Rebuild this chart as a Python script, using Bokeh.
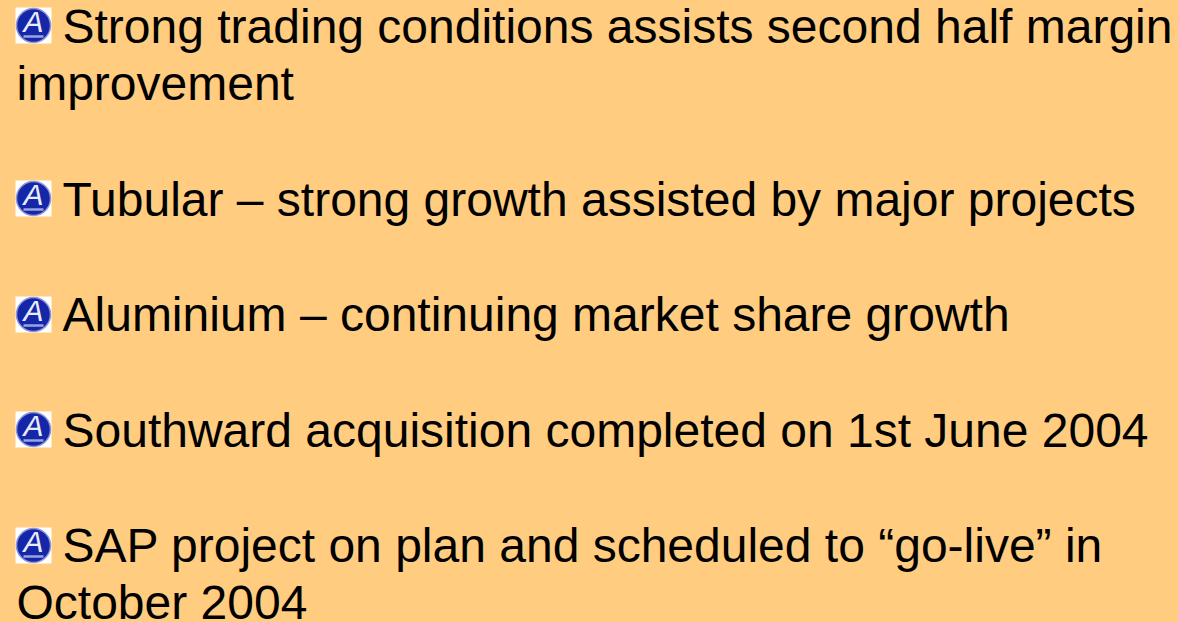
from bokeh.plotting import figure
from bokeh.embed import file_html
from bokeh.resources import INLINE
from bokeh.core.properties import value
from bokeh.models import Range1d

W, H = 1178, 622
lines = ["Strong trading conditions assists second half margin", "improvement",
         "Tubular – strong growth assisted by major projects",
         "Aluminium – continuing market share growth",
         "Southward acquisition completed on 1st June 2004",
         "SAP project on plan and scheduled to “go-live” in", "October 2004"]
xs = [62, 16, 62, 62, 62, 62, 16]
ys = [26, 83, 199, 314, 430, 545, 602]
bullet_x = [33] * 5
bullet_y = [25, 198, 314, 429, 545]

p = figure(width=W, height=H, x_range=Range1d(0, W), y_range=Range1d(H, 0),
           output_backend="svg", toolbar_location=None, min_border=0,
           background_fill_color="#FFCC80", border_fill_color="#FFCC80")
p.axis.visible = False
p.grid.visible = False
p.outline_line_color = None
p.scatter(bullet_x, bullet_y, size=36, marker="square", fill_color="white", line_color=None)
p.scatter(bullet_x, bullet_y, size=34, marker="circle", fill_color="#1526A8", line_color="#8C96D8", line_width=1.5)
p.text(bullet_x, [y - 4 for y in bullet_y], text=["A"] * 5, text_color="#E8ECF8",
       text_font=value("Liberation Sans"), text_font_size="30px", text_font_style="italic",
       text_align="center", text_baseline="middle")
p.segment([x - 10 for x in bullet_x], [y + 11 for y in bullet_y],
          [x + 10 for x in bullet_x], [y + 11 for y in bullet_y],
          line_color="#9AA4E0", line_width=2.5)
p.text(xs, ys, text=lines, text_color="black", text_font=value("Liberation Sans"),
       text_font_size="48px", text_align="left", text_baseline="middle")
html = file_html(p, INLINE)
html = html.replace("<head>", "<head><style>html,body{margin:0!important;padding:0;overflow:hidden;background:#FFCC80}</style>", 1)
open("out.html", "w").write(html)
